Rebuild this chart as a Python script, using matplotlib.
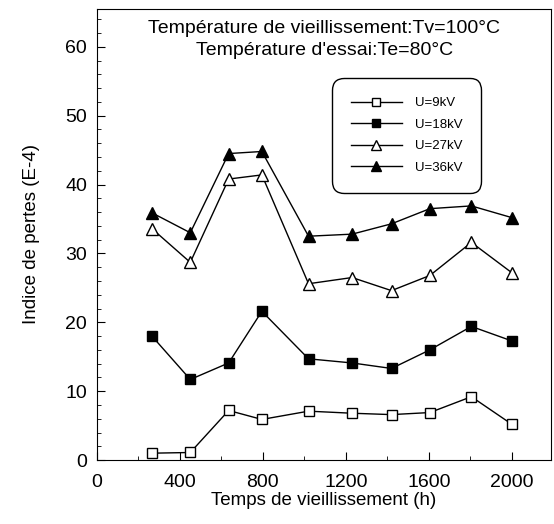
import matplotlib
matplotlib.use('Agg')
import matplotlib.pyplot as plt
from matplotlib.ticker import MultipleLocator

plt.rcParams['font.family'] = ['Liberation Sans', 'DejaVu Sans']

# temps de vieillissement (h)
t = [265, 450, 635, 795, 1020, 1230, 1420, 1605, 1805, 2000]

u9 = [1.0, 1.1, 7.2, 5.9, 7.1, 6.8, 6.6, 6.9, 9.2, 5.2]
u18 = [18.0, 11.7, 14.1, 21.6, 14.7, 14.1, 13.3, 16.0, 19.4, 17.3]
u27 = [33.6, 28.7, 40.8, 41.4, 25.6, 26.5, 24.6, 26.8, 31.6, 27.2]
u36 = [35.9, 33.0, 44.5, 44.8, 32.5, 32.8, 34.3, 36.5, 36.9, 35.2]

labels = ['U=9kV', 'U=18kV', 'U=27kV', 'U=36kV']

fig = plt.figure(figsize=(5.54, 5.24), dpi=100)
ax = fig.add_axes([0.175, 0.122, 0.820, 0.861])

ax.plot(t, u9, c='k', lw=1, marker='s', ms=7, mfc='white', mec='k', label=labels[0])
ax.plot(t, u18, c='k', lw=1, marker='s', ms=7, mfc='k', mec='k', label=labels[1])
ax.plot(t, u27, c='k', lw=1, marker='^', ms=8.5, mfc='white', mec='k', label=labels[2])
ax.plot(t, u36, c='k', lw=1, marker='^', ms=8.5, mfc='k', mec='k', label=labels[3])

ax.set_xlim(0, 2190)
ax.set_ylim(0, 65.5)
ax.xaxis.set_major_locator(MultipleLocator(400))
ax.xaxis.set_minor_locator(MultipleLocator(200))
ax.yaxis.set_major_locator(MultipleLocator(10))
ax.yaxis.set_minor_locator(MultipleLocator(2))
ax.tick_params(which='both', direction='in', labelsize=14)
ax.tick_params(which='major', length=6)
ax.tick_params(which='minor', length=3)
ax.tick_params(axis='x', pad=10)
ax.tick_params(axis='y', pad=7)
ax.set_xticks([0, 400, 800, 1200, 1600, 2000])
ax.set_xlabel('Temps de vieillissement (h)', fontsize=13.5, labelpad=1)
ax.set_ylabel('Indice de pertes (E-4)', fontsize=13.5, labelpad=18)

ax.text(0.5, 0.957, 'Température de vieillissement:Tv=100°C', transform=ax.transAxes,
        ha='center', va='center', fontsize=14)
ax.text(0.5, 0.907, "Température d'essai:Te=80°C", transform=ax.transAxes,
        ha='center', va='center', fontsize=14)

leg = ax.legend(loc='upper left', bbox_to_anchor=(0.518, 0.847), fontsize=9.5,
                handlelength=3.8, labelspacing=0.7, borderpad=1.45, handletextpad=1.0,
                borderaxespad=0, markerscale=0.9,
                fancybox=True, framealpha=1, edgecolor='k')
leg.get_frame().set_linewidth(1)
leg.get_frame().set_boxstyle('round,pad=0,rounding_size=0.9')

fig.savefig('out.png', dpi=100)
